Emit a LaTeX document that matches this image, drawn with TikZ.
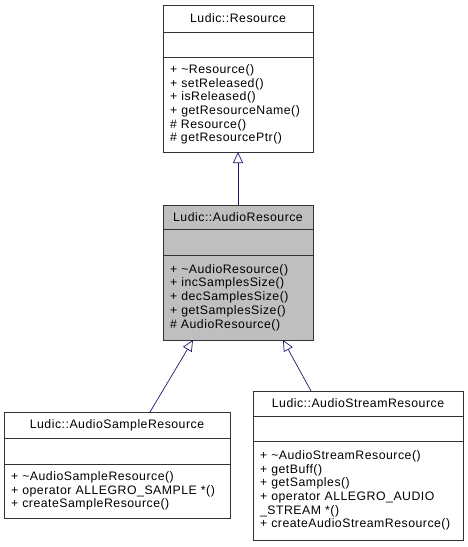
\documentclass[tikz,border=0pt]{standalone}
\usepackage{fontspec}
\setmainfont{Liberation Sans}[LetterSpace=4]
\usepackage{tikz}
\usetikzlibrary{arrows.meta,positioning}
\definecolor{edgeblue}{HTML}{191970}
\definecolor{boxline}{HTML}{333333}
\definecolor{focusgray}{HTML}{BFBFBF}

\begin{document}
\begin{tikzpicture}[x=1pt, y=1pt,
  every node/.style={font=\fontsize{12.3}{13.7}\selectfont},
  cls/.style={draw=boxline, line width=0.8pt, fill=white, inner sep=0pt, outer sep=0pt, align=center},
  members/.style={draw=boxline, line width=0.8pt, fill=white, inner xsep=7pt, inner ysep=0pt, outer sep=0pt, align=left},
  focus/.style={fill=focusgray},
  inherit/.style={-{Triangle[open,length=11pt,width=10pt]}, line width=0.7pt, color=edgeblue}
]
  \useasboundingbox (0,0) rectangle (468,-547);

  % base class
  \node[cls, minimum width=150pt, minimum height=27pt] (res) at (238,-18.5) {Ludic::Resource};
  \node[cls, minimum width=150pt, minimum height=25pt, below=0pt of res] (resattr) {};
  \node[members, text width=136pt, minimum height=95pt, below=0pt of resattr] (resops)
    {+ \textasciitilde Resource()\\+ setReleased()\\+ isReleased()\\+ getResourceName()\\\# Resource()\\\# getResourcePtr()};

  % audio resource (focus)
  \node[cls, focus, minimum width=150pt, minimum height=24pt] (audio) at (238,-217) {Ludic::AudioResource};
  \node[cls, focus, minimum width=150pt, minimum height=26pt, below=0pt of audio] (audioattr) {};
  \node[members, focus, text width=136pt, minimum height=85pt, below=0pt of audioattr] (audioops)
    {+ \textasciitilde AudioResource()\\+ incSamplesSize()\\+ decSamplesSize()\\+ getSamplesSize()\\\# AudioResource()};

  % derived classes
  \node[cls, minimum width=226pt, minimum height=26pt] (sample) at (117,-425) {Ludic::AudioSampleResource};
  \node[cls, minimum width=226pt, minimum height=26pt, below=0pt of sample] (sampleattr) {};
  \node[members, text width=212pt, minimum height=54pt, below=0pt of sampleattr] (sampleops)
    {+ \textasciitilde AudioSampleResource()\\+ operator ALLEGRO\_SAMPLE *()\\+ createSampleResource()};

  \node[cls, minimum width=210pt, minimum height=25pt] (stream) at (358,-403.5) {Ludic::AudioStreamResource};
  \node[cls, minimum width=210pt, minimum height=25pt, below=0pt of stream] (streamattr) {};
  \node[members, text width=196pt, minimum height=99pt, below=0pt of streamattr] (streamops)
    {+ \textasciitilde AudioStreamResource()\\+ getBuff()\\+ getSamples()\\+ operator ALLEGRO\_AUDIO\\\_STREAM *()\\+ createAudioStreamResource()};

  \draw[inherit] (audio.north) -- (resops.south);
  \draw[inherit] ([xshift=33pt]sample.north) -- ([xshift=-45pt]audioops.south);
  \draw[inherit] ([xshift=-47pt]stream.north) -- ([xshift=45pt]audioops.south);
\end{tikzpicture}
\end{document}
